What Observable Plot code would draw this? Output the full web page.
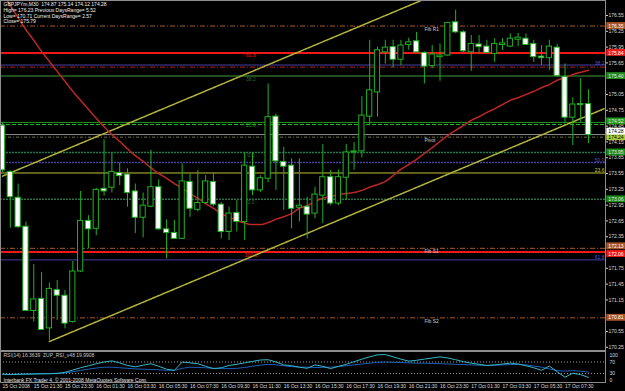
<!DOCTYPE html>
<html><head><meta charset="utf-8">
<script src="https://cdn.jsdelivr.net/npm/d3@7"></script>
<script src="https://cdn.jsdelivr.net/npm/@observablehq/plot@0.6"></script>
<style>
html,body{margin:0;padding:0;background:#000;}
#chart{position:relative;width:625px;height:391px;background:#000;overflow:hidden;}
#chart svg{position:absolute;left:0;display:block;}
.frame{position:absolute;border:1px solid #8c8c8c;box-sizing:border-box;pointer-events:none;}
</style></head>
<body><div id="chart"></div>
<script>
// ---------- DATA ----------
const firstBar = "2008-10-15T19:30:00Z";   // M30 bars
const opens  = [174.46,173.58,173.09,172.54,170.94,171.17,170.61,171.34,171.23,170.73,171.69,172.65,172.50,173.26,173.28,173.56,173.53,173.21,172.71,172.92,173.29,172.49,172.42,172.31,173.39,172.86,172.99,173.39,172.96,172.44,172.80,172.63,173.68,173.23,173.45,174.63,173.77,173.70,172.90,172.92,172.79,173.13,173.48,172.98,173.47,173.95,173.97,174.63,175.09,175.85,175.95,175.71,175.99,176.06,175.84,175.59,175.76,175.79,176.42,176.23,175.85,176.00,175.96,175.82,175.99,175.96,176.09,176.11,176.01,175.77,175.74,175.94,175.38,174.61,174.87,174.87];
const highs  = [174.52,173.60,173.35,172.63,171.82,171.67,171.47,171.52,171.33,171.88,173.21,172.75,173.27,174.19,173.94,173.75,173.64,173.35,173.18,173.99,173.43,172.67,172.66,173.73,173.54,173.61,173.51,173.56,173.00,172.91,173.04,173.95,173.95,173.51,175.25,174.68,174.05,173.83,173.83,173.10,173.29,174.10,173.61,173.62,174.10,174.14,175.01,176.08,175.95,176.08,176.08,176.08,176.12,176.23,175.86,175.98,176.01,176.42,176.65,176.26,176.17,176.17,176.08,176.11,176.11,176.20,176.21,176.20,176.08,175.98,176.08,176.00,175.63,174.99,175.35,175.14];
const lows   = [173.57,172.51,172.51,170.93,170.73,170.57,170.38,170.76,170.60,170.71,171.67,172.12,172.37,173.12,173.18,173.32,172.91,172.41,172.33,172.90,172.47,171.93,172.30,172.30,172.72,172.82,172.97,172.92,172.31,172.28,172.44,172.28,173.13,173.19,173.38,173.23,172.85,172.50,172.63,172.31,172.69,172.60,172.94,172.94,173.04,173.61,173.85,174.46,174.62,175.63,175.56,175.60,175.89,175.85,175.25,175.54,175.30,175.77,176.21,175.85,175.49,175.82,175.83,175.66,175.89,175.94,175.96,175.98,175.66,175.60,175.51,175.38,174.49,174.08,174.52,174.12];
const closes = [173.61,173.10,172.53,170.94,171.16,170.58,171.36,171.23,170.70,171.69,172.65,172.49,173.24,173.21,173.58,173.50,173.18,172.71,172.94,173.29,172.49,172.42,172.31,173.40,172.88,172.99,173.40,172.96,172.44,172.79,172.63,173.70,173.23,173.46,174.62,173.78,173.68,172.88,172.94,172.77,173.15,173.48,172.98,173.48,173.95,173.97,174.65,175.13,175.89,175.94,175.71,175.98,176.04,175.85,175.58,175.81,175.79,176.41,176.23,175.87,176.01,175.95,175.84,176.01,176.02,176.11,176.13,175.99,175.76,175.74,175.96,175.40,174.61,174.86,174.85,174.28];
const movingAvg = [176.97,176.74,176.51,176.28,176.08,175.87,175.68,175.49,175.30,175.11,174.94,174.77,174.60,174.44,174.29,174.16,174.02,173.89,173.78,173.66,173.55,173.46,173.36,173.27,173.17,173.08,172.98,172.89,172.79,172.72,172.66,172.61,172.58,172.58,172.62,172.68,172.73,172.79,172.89,172.94,173.02,173.08,173.11,173.15,173.17,173.19,173.23,173.29,173.34,173.40,173.51,173.63,173.72,173.82,173.93,174.04,174.16,174.27,174.37,174.46,174.56,174.63,174.71,174.78,174.86,174.94,174.99,175.05,175.11,175.18,175.24,175.32,175.37,175.43,175.47,175.51];
const rsi14  = [28,26,27,28,28,29,29,30,34,42,50,57,64,70,74,67,58,53,59,64,55,45,41,70,67,64,55,47,50,58,62,67,72,77,78,70,60,57,52,48,60,55,47,55,62,71,80,88,95,96,88,80,73,76,80,84,88,84,78,71,66,62,58,60,63,66,63,57,50,41,56,36,17,31,26,16.4];
const zupRsi = [27,27,28,28,29,29,30,31,32,36,41,45,49,52,52,50,48,46,45,44,43,41,41,48,52,51,50,48,47,47,48,51,55,59,62,60,57,54,52,52,51,51,52,54,57,60,63,66,69,70,69,68,67,66,66,65,64,63,62,61,60,59,58,59,60,61,62,60,56,52,46,40,38,40,38,35];
// channel (two parallel trend lines): [bar index, price]
const upperChannel = [[0,173.50],[54,176.86]];
const lowerChannel = [[6,170.36],[77,174.78]];
// horizontal levels
const levelPrices = [176.35,175.84,175.61,175.57,175.40,174.52,174.48,174.29,174.24,173.95,173.76,173.56,173.06,172.13,172.06,171.91,170.81];
const levelKinds  = ["fib","red","fibo","redDash","greenDark","green","order","bid","pivot","teal","fiboDot","yellow","greenLow","fib","red","fibo","fib"];
const pivotLabels = ["Fib R1","Pivot","Fib S1","Fib S2"];
const pivotPrices = [176.35,174.24,172.13,170.81];
const rightFibText  = ["38.2","50.0","23.6","61.8"];
const rightFibPrice = [175.61,173.76,173.56,171.91];
const rightFibKind  = ["fibo","fibo","yellow","fibo"];
const leftFibText  = ["61.8","38.2","23.6","0.0","0.0","100.0"];
const leftFibPrice = [175.84,175.40,174.52,173.95,173.06,172.06];
const leftFibKind  = ["red","greenDark","green","teal","greenLow","red"];
const boxPrices = [176.35,175.84,175.40,174.52,174.24,174.28,173.95,173.06,172.13,172.06,170.81];
const boxKinds  = ["fib","red","greenDark","green","pivot","bid","teal","greenLow","fib","red","fib"];
const priceTicks = [176.55,176.25,175.95,175.65,175.35,175.05,174.75,174.45,174.15,173.85,173.55,173.25,172.95,172.65,172.35,172.05,171.75,171.45,171.15,170.85,170.55,170.25];
const tickBars = [0,4,8,12,16,20,24,28,32,36,40,44,48,52,56,60,64,68,72];
const tickLabels = ["15 Oct 2008","15 Oct 21:30","15 Oct 23:30","16 Oct 01:30","16 Oct 03:30","16 Oct 05:30","16 Oct 07:30","16 Oct 09:30","16 Oct 11:30","16 Oct 13:30","16 Oct 15:30","16 Oct 17:30","16 Oct 19:30","16 Oct 21:30","16 Oct 23:30","17 Oct 01:30","17 Oct 03:30","17 Oct 05:30","17 Oct 07:30"];
const rsiTicks = [100,70,30,0];
const headerLines = ["GBPJPYm,M30  174.87 175.14 174.12 174.28","High= 176.23 Previous DaysRange= 5.52","Low= 170.71 Current DaysRange= 2.57","Close= 175.79"];
const rsiCaption = "RSI(14) 16.3639  ZUP_RSI_v48 19.9908";
const footer = "Interbank FX Trader 4, \u00a9 2001-2008 MetaQuotes Software Corp.";

// ---------- STYLE ----------
const FONT = "'Liberation Sans', Arial, sans-serif";
const FS = 5;
const LS = {
  fib:      {stroke:"#a8562a", dash:"5,2,1,2", w:1, box:"#a8562a", txt:"#fff"},
  red:      {stroke:"#f01818", dash:null, w:2, box:"#f01818", txt:"#fff"},
  fibo:     {stroke:"#4a3fa0", dash:null, w:1, text:"#5a50c8"},
  fiboDot:  {stroke:"#4a3fa0", dash:"2,1", w:1.5},
  redDash:  {stroke:"#b02020", dash:"5,2,1,2", w:1},
  greenDark:{stroke:"#2a6a2a", dash:null, w:1.5, box:"#1f8a1f", txt:"#e8e8e8"},
  green:    {stroke:"#1e9a1e", dash:null, w:1, box:"#1e9a1e", txt:"#e8e8e8"},
  order:    {stroke:"#22c022", dash:"4,2", w:1},
  bid:      {stroke:"#8a8a8a", dash:null, w:1, box:"#ffffff", txt:"#000"},
  pivot:    {stroke:"#6e6e38", dash:"3,2,1,2", w:1, box:"#a8d040", txt:"#000"},
  teal:     {stroke:"#1f7a50", dash:"2,1", w:1.5, box:"#1a8a1a", txt:"#e8e8e8"},
  yellow:   {stroke:"#c0c038", dash:null, w:1, text:"#c8c840"},
  greenLow: {stroke:"#2a6e4a", dash:"2,1", w:1.5, box:"#1a8a1a", txt:"#e8e8e8"}
};
// vertical nudges (px) for price boxes that sit on top of each other
const BOX_NUDGE = {3: -1, 5: -3.5, 8: -2, 9: 2};
const CANDLE = "#22b022";

// ---------- BUILD ----------
const t0 = new Date(firstBar).getTime();
const barMs = 30 * 60 * 1000;
const T = i => new Date(t0 + i * barMs);
const xDomain = [T(-0.256), T(77.184)];
const half = 10 * 60 * 1000;

const candles = opens.map((o, i) => ({t: T(i), o, h: highs[i], l: lows[i], c: closes[i], bull: closes[i] >= o}));
const maData = movingAvg.map((v, i) => ({t: T(i), v}));
const rsiData = rsi14.map((v, i) => ({t: T(i), rsi: v, zup: zupRsi[i]}));
const levels = levelPrices.map((p, i) => ({price: p, kind: levelKinds[i]}));
const boxes = boxPrices.map((p, i) => ({price: p, kind: boxKinds[i], nudge: BOX_NUDGE[i] || 0}));
const chan = a => a.map(([b, p]) => ({t: T(b), p}));
// tick labels that the level boxes cover are not visible in the chart
const visibleTicks = priceTicks.filter(v => !boxPrices.some(b => Math.abs(b - v) < 0.065));

const levelMarks = Object.keys(LS).map(k => Plot.ruleY(levels.filter(d => d.kind === k), {
  y: "price", stroke: LS[k].stroke, strokeWidth: LS[k].w, strokeDasharray: LS[k].dash || undefined
}));

const boxMarks = [];
for (const n of [...new Set(boxes.map(d => d.nudge))]) {
  const grp = boxes.filter(d => d.nudge === n);
  boxMarks.push(Plot.rect(grp, {
    x1: () => T(77.35), x2: () => T(79.85),
    y1: d => d.price - 0.065, y2: d => d.price + 0.065,
    fill: d => LS[d.kind].box, dy: n
  }));
}
for (const n of [...new Set(boxes.map(d => d.nudge))]) {
  const grp = boxes.filter(d => d.nudge === n);
  boxMarks.push(Plot.text(grp, {
    x: () => T(77.55), y: "price", text: d => d.price.toFixed(2), fill: d => LS[d.kind].txt,
    textAnchor: "start", fontSize: FS, dy: n
  }));
}

const main = Plot.plot({
  width: 625, height: 351,
  marginLeft: 0, marginRight: 20, marginTop: 0, marginBottom: 0,
  style: {background: "transparent", color: "#dcdcdc", fontFamily: FONT, fontSize: FS + "px", overflow: "visible"},
  x: {type: "utc", domain: xDomain, axis: null},
  y: {domain: [170.171, 176.835], axis: null},
  marks: [
    ...levelMarks,
    Plot.text(leftFibText.map((s, i) => ({s, p: leftFibPrice[i], k: leftFibKind[i]})), {
      x: () => T(31.8), y: "p", text: d => "\u00b7 " + d.s + " \u00b7", fill: d => LS[d.k].stroke, lineAnchor: "top", dy: 1, fontSize: FS
    }),
    Plot.text(rightFibText.map((s, i) => ({s, p: rightFibPrice[i], k: rightFibKind[i]})), {
      x: () => T(77.05), y: "p", text: "s", fill: d => LS[d.k].text || LS[d.k].stroke, textAnchor: "end", lineAnchor: "bottom", dy: -0.5, fontSize: FS
    }),
    Plot.line(chan(upperChannel), {x: "t", y: "p", stroke: "#b4b43c", strokeDasharray: "3,1", clip: true}),
    Plot.line(chan(lowerChannel), {x: "t", y: "p", stroke: "#b4b43c", strokeDasharray: "3,1", clip: true}),
    Plot.line(maData, {x: "t", y: "v", stroke: "#c02828", strokeDasharray: "2,1", clip: true, curve: "monotone-x"}),
    Plot.ruleX(candles, {x: "t", y1: "l", y2: "h", stroke: CANDLE, strokeWidth: 1}),
    Plot.rect(candles, {
      x1: d => new Date(+d.t - half), x2: d => new Date(+d.t + half),
      y1: d => Math.min(d.o, d.c), y2: d => Math.max(d.o, d.c),
      fill: d => d.bull ? "#000000" : "#ffffff", stroke: CANDLE, strokeWidth: 1
    }),
    Plot.text(pivotLabels.map((s, i) => ({s, p: pivotPrices[i]})), {
      x: () => T(54), y: "p", text: "s", fill: "#c8c8c8", textAnchor: "start", lineAnchor: "top", dy: 1.5, fontSize: FS
    }),
    Plot.text([headerLines.join("\n")], {
      frameAnchor: "top-left", dx: 3, dy: 2, text: d => d, fill: "#f0f0f0", textAnchor: "start", lineAnchor: "top", lineHeight: 1.12, fontSize: FS
    }),
    Plot.axisY({anchor: "right", ticks: visibleTicks, tickFormat: d => d.toFixed(2), tickSize: 2, tickPadding: 1,
      stroke: "#cfcfcf", fill: "#dcdcdc", fontSize: FS, label: null}),
    ...boxMarks
  ]
});
main.style.top = "0px";

const tickTimes = tickBars.map(b => T(b));
const labelOf = new Map(tickTimes.map((d, i) => [+d, tickLabels[i]]));

const rsiPlot = Plot.plot({
  width: 625, height: 40,
  marginLeft: 0, marginRight: 20, marginTop: 1.9, marginBottom: 9.4,
  style: {background: "transparent", color: "#dcdcdc", fontFamily: FONT, fontSize: FS + "px", overflow: "visible"},
  x: {type: "utc", domain: xDomain, axis: null},
  y: {domain: [0, 100], axis: null},
  marks: [
    Plot.ruleY([70, 30], {stroke: "#9a9a9a", strokeDasharray: "1,2"}),
    Plot.line(rsiData, {x: "t", y: "zup", stroke: "#2060b8", strokeWidth: 1}),
    Plot.line(rsiData, {x: "t", y: "rsi", stroke: "#38b6c6", strokeWidth: 1}),
    Plot.text(rsiTicks.filter(v => v === 100), {frameAnchor: "right", y: d => d, text: d => String(d), dx: 4, textAnchor: "start", lineAnchor: "top", fill: "#dcdcdc", fontSize: FS}),
    Plot.text(rsiTicks.filter(v => v === 70 || v === 30), {frameAnchor: "right", y: d => d, text: d => String(d), dx: 4, textAnchor: "start", lineAnchor: "middle", fill: "#dcdcdc", fontSize: FS}),
    Plot.text(rsiTicks.filter(v => v === 0), {frameAnchor: "right", y: d => d, text: d => String(d), dx: 4, textAnchor: "start", lineAnchor: "bottom", fill: "#dcdcdc", fontSize: FS}),
    Plot.axisX({anchor: "bottom", ticks: tickTimes, tickFormat: d => labelOf.get(+d), tickSize: 0, tickPadding: 2,
      textAnchor: "start", fill: "#dcdcdc", fontSize: FS, label: null}),
    Plot.text([rsiCaption], {frameAnchor: "top-left", dx: 3, dy: 0.5, text: d => d, fill: "#c8c8c8", textAnchor: "start", lineAnchor: "top", fontSize: FS}),
    Plot.text([footer], {frameAnchor: "bottom-left", dx: 3, dy: -0.5, text: d => d, fill: "#e8e8e8", textAnchor: "start", lineAnchor: "bottom", fontSize: FS})
  ]
});
rsiPlot.style.top = "351px";

const root = document.getElementById("chart");
root.appendChild(main);
root.appendChild(rsiPlot);
const f1 = document.createElement("div"); f1.className = "frame";
Object.assign(f1.style, {left: "0px", top: "0px", width: "606px", height: "351px"});
const f2 = document.createElement("div"); f2.className = "frame";
Object.assign(f2.style, {left: "0px", top: "351px", width: "606px", height: "32px"});
root.appendChild(f1); root.appendChild(f2);
</script></body></html>
